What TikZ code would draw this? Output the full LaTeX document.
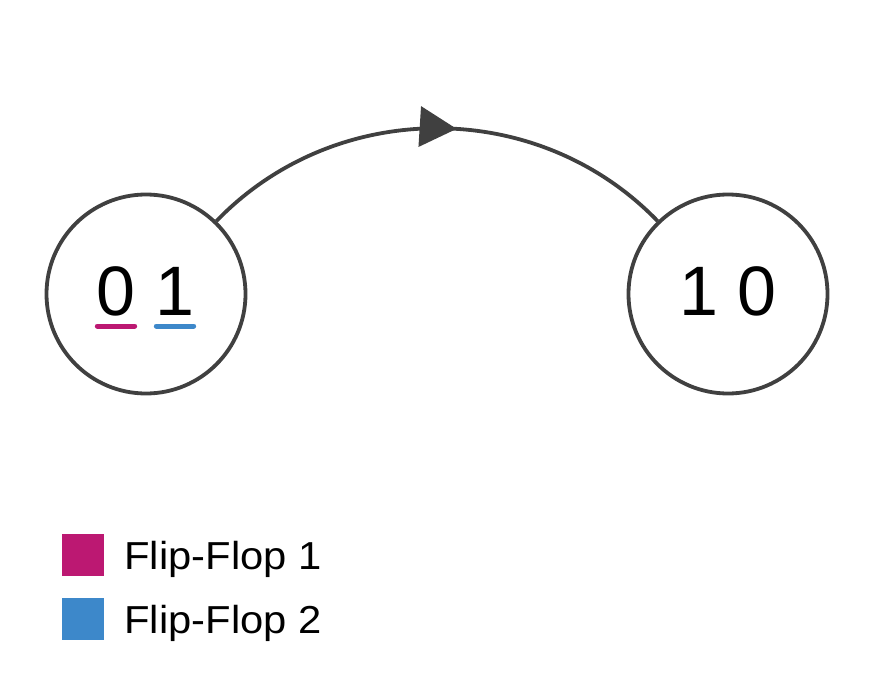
\documentclass[tikz,border=0pt]{standalone}
\usepackage{fontspec}
\setmainfont{Liberation Sans}
\usepackage{xcolor}
\usetikzlibrary{arrows.meta,decorations.markings}
\definecolor{ffone}{RGB}{188,24,114}
\definecolor{fftwo}{RGB}{61,136,202}
\definecolor{edge}{RGB}{64,64,64}

\begin{document}
\begin{tikzpicture}[x=1pt,y=1pt,
        state/.style={draw=edge,line width=3.8pt,circle,minimum size=199pt,inner sep=0pt},
        digit/.style={inner sep=0pt,anchor=base,font=\fontsize{70}{84}\selectfont},
        uline/.style={line width=5pt,line cap=round},
        key/.style={minimum size=42pt,inner sep=0pt},
        keytext/.style={inner sep=0pt,anchor=base west,font=\fontsize{39}{46}\selectfont}]
    \useasboundingbox (0,0) rectangle (877,681);
    % the two states
    \node[state] (s01) at (146,387) {};
    \node[state] (s10) at (728,387) {};
    \node[digit] (b1) at (116,366) {0};
    \node[digit] (b2) at (175,366) {1};
    \node[digit] (t10) at (728,366) {1 0};
    \draw[uline,ffone] ([xshift=1pt,yshift=-11pt]b1.base west) -- ([xshift=-1pt,yshift=-11pt]b1.base east);
    \draw[uline,fftwo] ([xshift=1pt,yshift=-11pt]b2.base west) -- ([xshift=-1pt,yshift=-11pt]b2.base east);
    % transition
    \draw[edge,line width=3.8pt,postaction={decorate},
        decoration={markings,mark=at position 0.54 with {\arrow{Triangle[length=37pt,width=40pt]}}}]
        (s01) to[out=46,in=134] (s10);
    % legend
    \foreach \i/\col/\y in {1/ffone/126,2/fftwo/62}{
        \node[key,fill=\col] (key\i) at (83,\y) {};
        \node[keytext] (lbl\i) at ([xshift=20pt,yshift=-14pt]key\i.east) {\scalebox{1.07}[1]{Flip-Flop \i}};
    }
\end{tikzpicture}
\end{document}
